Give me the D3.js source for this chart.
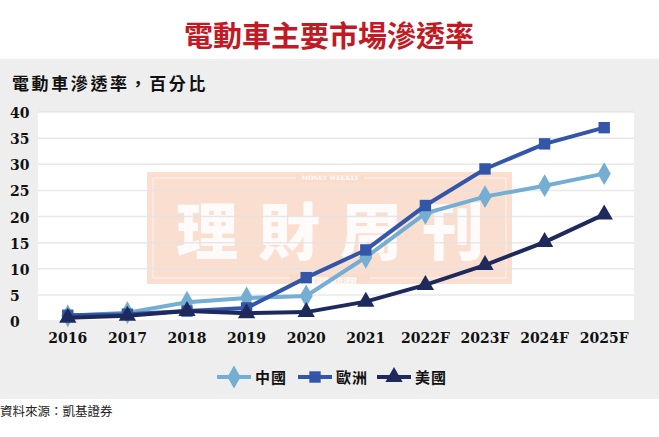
<!DOCTYPE html>
<html lang="zh-Hant">
<head>
  <meta charset="UTF-8">
  <title>電動車主要市場滲透率</title>
  <script src="https://d3js.org/d3.v7.min.js"></script>
  <style>
    body { margin: 0; background: #fff; }
    svg { display: block; }
    .num { font-family: "DejaVu Serif", "Liberation Serif", serif; font-weight: bold; font-size: 14px; fill: #111; }
    .cjk { font-family: "Noto Sans CJK TC", "Noto Sans CJK SC", sans-serif; }
  </style>
</head>
<body>
<svg id="chart" width="659" height="437"></svg>

<script>
  // chart data
  const years = ["2016", "2017", "2018", "2019", "2020", "2021", "2022F", "2023F", "2024F", "2025F"];
  const china = [1.0, 1.6, 3.6, 4.4, 4.8, 12.2, 20.6, 23.8, 25.9, 28.2];
  const europe = [1.1, 1.3, 1.9, 2.5, 8.3, 13.6, 22.1, 29.1, 33.9, 37.0];
  const usa = [0.6, 1.0, 1.9, 1.5, 1.7, 3.7, 6.9, 10.7, 15.1, 20.4];
  const yTicks = [0, 5, 10, 15, 20, 25, 30, 35, 40];

  const series = [
    {name: "中國", values: china, color: "#74aed2", symbol: d3.symbolDiamond, size: 150},
    {name: "歐洲", values: europe, color: "#3456a9", symbol: d3.symbolSquare, size: 130},
    {name: "美國", values: usa, color: "#1e2a5c", symbol: d3.symbolTriangle, size: 130}
  ];

  const svg = d3.select("#chart");

  // title + grey panel
  svg.append("text")
          .attr("class", "cjk")
          .attr("x", 329).attr("y", 47)
          .attr("text-anchor", "middle")
          .attr("font-size", 29).attr("font-weight", "bold")
          .attr("fill", "#c21a24")
          .text("電動車主要市場滲透率");

  svg.append("rect").attr("x", 0).attr("y", 59).attr("width", 659).attr("height", 340).attr("fill", "#eeeeee");

  svg.append("text")
          .attr("class", "cjk")
          .attr("x", 12).attr("y", 90)
          .attr("font-size", 17).attr("font-weight", "bold")
          .attr("letter-spacing", 2.6)
          .attr("fill", "#111")
          .text("電動車滲透率，百分比");

  // scales
  const x = d3.scalePoint().domain(years).range([38, 634]).padding(0.5);
  const y = d3.scaleLinear().domain([0, 40]).range([321, 112]);

  svg.append("rect").attr("x", 38).attr("y", 112).attr("width", 596).attr("height", 210).attr("fill", "#fff");

  // watermark (under the lines, over the grid)
  const wm = svg.append("g");
  wm.append("rect").attr("x", 147).attr("y", 172).attr("width", 365).attr("height", 112)
          .attr("fill", "#f6c9b0").attr("opacity", 0.6);
  wm.append("rect").attr("x", 153).attr("y", 178).attr("width", 353).attr("height", 100)
          .attr("fill", "none").attr("stroke", "#fff").attr("stroke-width", 0.8).attr("opacity", 0.8);
  wm.append("rect").attr("x", 296).attr("y", 175).attr("width", 68).attr("height", 7).attr("fill", "#f9dccc");
  wm.append("text").attr("x", 330).attr("y", 180).attr("text-anchor", "middle")
          .attr("font-family", "DejaVu Serif, serif").attr("font-size", 6).attr("font-weight", "bold")
          .attr("fill", "#fff").text("MONEY WEEKLY");
  wm.append("text").attr("class", "cjk").attr("x", 340).attr("y", 255).attr("text-anchor", "middle")
          .attr("font-size", 62).attr("font-weight", "900").attr("letter-spacing", 20)
          .attr("fill", "#fff").attr("opacity", 0.9).text("理財周刊");
  wm.append("rect").attr("x", 290).attr("y", 274).attr("width", 80).attr("height", 8).attr("fill", "#f9dccc");
  wm.append("text").attr("class", "cjk").attr("x", 330).attr("y", 283).attr("text-anchor", "middle")
          .attr("font-size", 6.5).attr("font-weight", "bold")
          .attr("fill", "#fff").text("致富關鍵 就在理財");

  // gridlines
  svg.append("g").selectAll("line").data(yTicks).enter().append("line")
          .attr("x1", 38).attr("x2", 634)
          .attr("y1", d => y(d)).attr("y2", d => y(d))
          .attr("stroke", "#e3e3e3").attr("stroke-width", 1.5).attr("opacity", 0.8);

  // y labels (left aligned)
  svg.append("g").selectAll("text").data(yTicks).enter().append("text")
          .attr("class", "num")
          .attr("x", 10).attr("y", d => y(d) + 6)
          .attr("font-size", 15)
          .text(d => d);

  // x labels
  svg.append("g").selectAll("text").data(years).enter().append("text")
          .attr("class", "num")
          .attr("x", d => x(d)).attr("y", 343)
          .attr("text-anchor", "middle")
          .attr("font-family", "Liberation Serif, serif")
          .attr("font-size", 15.5)
          .text(d => d);

  // lines + markers
  const line = d3.line().x((d, i) => x(years[i])).y(d => y(d));
  const plot = svg.append("g");
  series.forEach(s => {
    plot.append("path")
            .attr("d", line(s.values))
            .attr("fill", "none")
            .attr("stroke", s.color)
            .attr("stroke-width", 4);
    plot.selectAll(null).data(s.values).enter().append("path")
            .attr("d", d3.symbol().type(s.symbol).size(s.size))
            .attr("transform", (d, i) => `translate(${x(years[i])},${y(d)})`)
            .attr("fill", s.color);
  });

  // legend
  const legX = [217, 298, 377];
  const legend = svg.append("g");
  series.forEach((s, i) => {
    const g = legend.append("g").attr("transform", `translate(${legX[i]},377)`);
    g.append("line").attr("x1", 0).attr("x2", 34).attr("stroke", s.color).attr("stroke-width", 4);
    g.append("path").attr("d", d3.symbol().type(s.symbol).size(s.size)).attr("transform", "translate(17,0)").attr("fill", s.color);
    g.append("text").attr("class", "cjk")
            .attr("x", 38).attr("y", 6)
            .attr("font-size", 15).attr("font-weight", "bold").attr("letter-spacing", 1)
            .attr("fill", "#111").text(s.name);
  });

  // source
  svg.append("text").attr("class", "cjk")
          .attr("x", 0).attr("y", 416)
          .attr("font-size", 12.5)
          .attr("fill", "#222")
          .text("資料來源：凱基證券");
</script>
</body>
</html>
